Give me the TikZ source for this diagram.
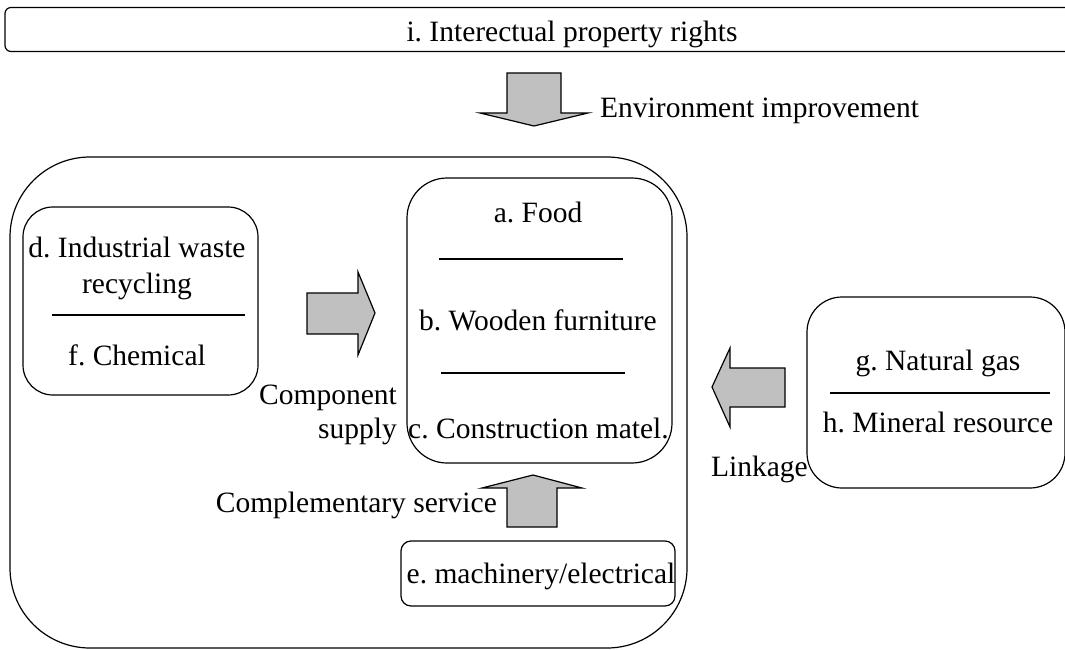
\documentclass[tikz,border=0pt]{standalone}
\usepackage{fontspec}
\setmainfont{Liberation Serif}
\frenchspacing
\definecolor{arrowgray}{RGB}{192,192,192}
\begin{document}
\begin{tikzpicture}[x=1pt,y=-1pt,
  box/.style={draw=black, line width=1.2pt, inner sep=0pt},
  lbl/.style={inner sep=0pt, anchor=base, font=\fontsize{29.5}{37}\selectfont},
  divider/.style={draw=black, line width=2.2pt},
  blockarrow/.style={draw=black, line width=1.2pt, fill=arrowgray, line join=miter}]
\useasboundingbox (0,0) rectangle (1065,650);
\clip (0,0) rectangle (1065,650);

% frames
\node[box, rounded corners=6pt, minimum width=1140pt, minimum height=44pt] (ipr) at (575,29.5) {};
\node[box, rounded corners=80pt, minimum width=677pt, minimum height=491pt] (cluster) at (348.5,402.5) {};
\node[box, rounded corners=30pt, minimum width=235pt, minimum height=188pt] (left) at (140.5,301) {};
\node[box, rounded corners=40pt, minimum width=265pt, minimum height=285pt] (core) at (539.5,320.5) {};
\node[box, rounded corners=10pt, minimum width=274pt, minimum height=65pt] (mach) at (538,573.5) {};
\node[box, rounded corners=35pt, minimum width=258pt, minimum height=191pt] (res) at (936,392.5) {};

% texts
\node[lbl] (ti) at (572,42) {i. Interectual property rights};
\node[lbl, anchor=base west] (tenv) at (600,118) {Environment improvement};
\node[lbl] (ta) at (538,222) {a. Food};
\node[lbl] (tb) at (538,330) {b. Wooden furniture};
\node[lbl] (tc) at (538.5,438) {c. Construction matel.};
\node[lbl] (te) at (541,583) {e. machinery/electrical};
\node[lbl] (td1) at (137,257) {d. Industrial waste};
\node[lbl] (td2) at (137,293) {recycling};
\node[lbl] (tf) at (137,365) {f. Chemical};
\node[lbl] (tg) at (938,370) {g. Natural gas};
\node[lbl] (th) at (938,432) {h. Mineral resource};
\node[lbl, anchor=base east] (tcomp1) at (397,404) {Component};
\node[lbl, anchor=base east] (tcomp2) at (397,438) {supply};
\node[lbl, anchor=base east] (tserv) at (497,512) {Complementary service};
\node[lbl, anchor=base east] (tlink) at (808,476) {Linkage};

% dividers
\draw[divider] (52,315) -- (245,315);
\draw[divider] (439,259) -- (623,259);
\draw[divider] (441,373) -- (625,373);
\draw[divider] (830,393) -- (1050,393);

% block arrows
\draw[blockarrow] (507,73) -- (561,73) -- (561,113) -- (588,113) -- (534,126)
  -- (480,113) -- (507,113) -- cycle;
\draw[blockarrow] (307,293) -- (358,293) -- (358,272) -- (375,313) -- (358,355)
  -- (358,334) -- (307,334) -- cycle;
\draw[blockarrow] (507,527) -- (507,488) -- (482,488) -- (533,475) -- (582,488)
  -- (557,488) -- (557,527) -- cycle;
\draw[blockarrow] (785,368) -- (730,368) -- (730,348) -- (712,387) -- (730,427)
  -- (730,407) -- (785,407) -- cycle;
\end{tikzpicture}
\end{document}
